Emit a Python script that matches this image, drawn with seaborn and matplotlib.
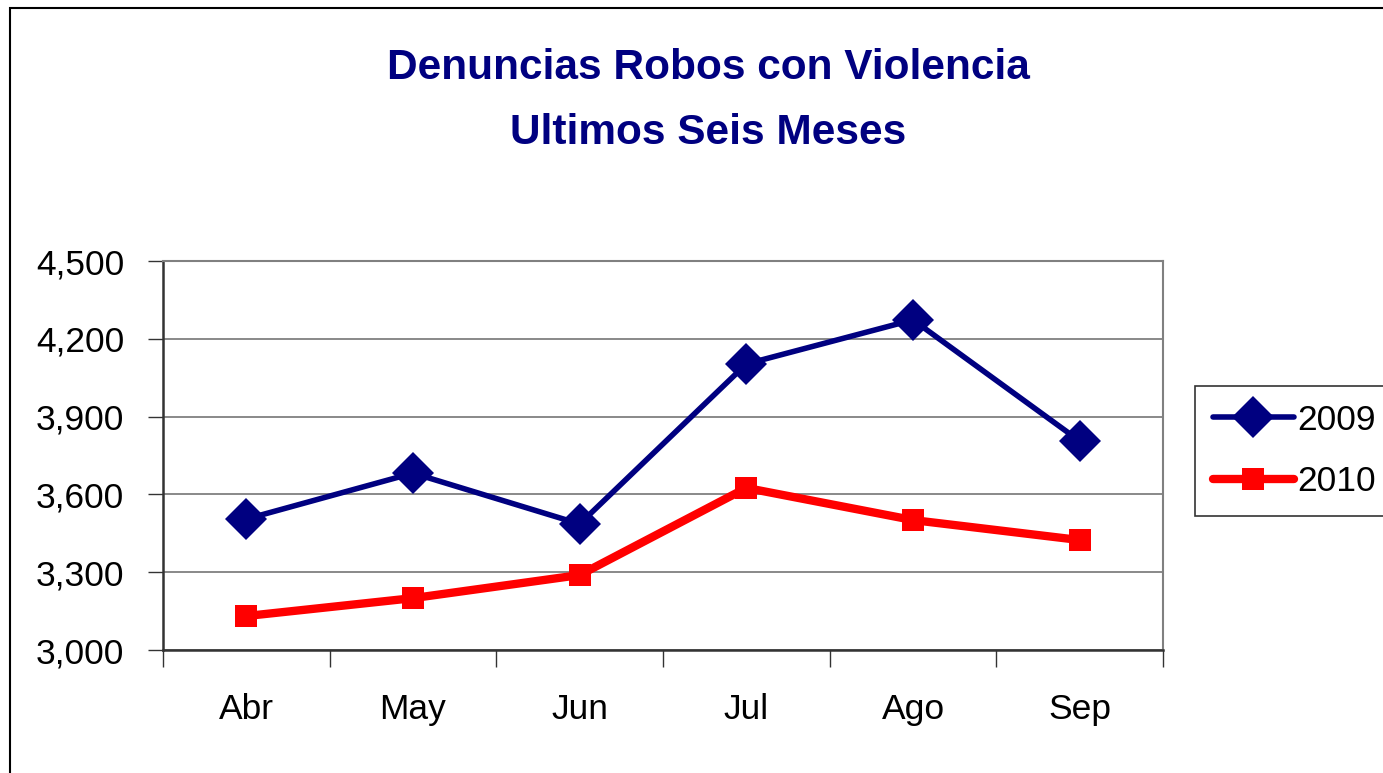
import pandas as pd
import matplotlib.pyplot as plt
import seaborn as sns
from matplotlib.patches import Rectangle
from matplotlib.ticker import FuncFormatter, FixedLocator

# Datos
meses = ['Abr', 'May', 'Jun', 'Jul', 'Ago', 'Sep']
valores_2009 = [3505, 3682, 3486, 4103, 4273, 3806]
valores_2010 = [3131, 3200, 3289, 3625, 3501, 3424]
y_ticks = [3000, 3300, 3600, 3900, 4200, 4500]

df_2009 = pd.DataFrame({'Mes': meses, 'Valor': valores_2009})
df_2010 = pd.DataFrame({'Mes': meses, 'Valor': valores_2010})

sns.set_style('white')
plt.rcParams['font.family'] = ['Liberation Sans', 'DejaVu Sans']
plt.rcParams['text.color'] = 'black'
plt.rcParams['xtick.color'] = 'black'
plt.rcParams['ytick.color'] = 'black'

fig = plt.figure(figsize=(13.83, 7.73), dpi=100)
ax = fig.add_axes([163 / 1383, 1 - 650 / 773, 1000 / 1383, 389 / 773])

sns.lineplot(data=df_2009, x='Mes', y='Valor', ax=ax, color='#000080', linewidth=4,
             marker='D', markersize=21, markeredgewidth=0, label='2009', sort=False)
sns.lineplot(data=df_2010, x='Mes', y='Valor', ax=ax, color='#ff0000', linewidth=6,
             marker='s', markersize=16, markeredgewidth=0, label='2010', sort=False)

ax.set_xlim(-0.5, 5.5)
ax.set_ylim(3000, 4500)
ax.set_yticks(y_ticks)
ax.yaxis.set_major_formatter(FuncFormatter(lambda v, p: f'{int(v):,}'))
ax.grid(axis='y', color='#808080', linewidth=1.3)
ax.set_axisbelow(True)

ax.set_xticks(range(len(meses)))
ax.set_xticklabels(meses)
ax.xaxis.set_minor_locator(FixedLocator([i - 0.5 for i in range(len(meses) + 1)]))
ax.tick_params(axis='x', which='major', length=0, pad=31, labelsize=25.5)
ax.tick_params(axis='x', which='minor', length=12, width=1, color='#333333', direction='out', bottom=True)
ax.tick_params(axis='y', length=11, width=1, color='#333333', direction='out', left=True, pad=17, labelsize=25.5)
ax.set_xlabel('')
ax.set_ylabel('')

for s in ['top', 'right']:
    ax.spines[s].set_color('#808080')
    ax.spines[s].set_linewidth(1.5)
for s in ['left', 'bottom']:
    ax.spines[s].set_color('#333333')
    ax.spines[s].set_linewidth(1.8)

ax.get_legend().remove()
handles, labels = ax.get_legend_handles_labels()
leg = fig.legend(handles, labels, loc='upper left',
                 bbox_to_anchor=(1195 / 1383, 1 - 386 / 773),
                 fontsize=25.5, frameon=True, fancybox=False, edgecolor='black',
                 handlelength=2.3, handletextpad=0.1, borderpad=0.5, labelspacing=0.8,
                 borderaxespad=0)
leg.get_frame().set_linewidth(1.2)

fig.text(0.512, 1 - 68 / 773, 'Denuncias Robos con Violencia', ha='center', va='center',
         fontsize=30.5, fontweight='bold', color='#000080')
fig.text(0.512, 1 - 133 / 773, 'Ultimos Seis Meses', ha='center', va='center',
         fontsize=30.5, fontweight='bold', color='#000080')

fig.add_artist(Rectangle((10 / 1383, -0.1), 1.2, 1.1 - 8 / 773, transform=fig.transFigure,
                         fill=False, edgecolor='black', linewidth=1.5))

fig.savefig('out.png', dpi=100)
